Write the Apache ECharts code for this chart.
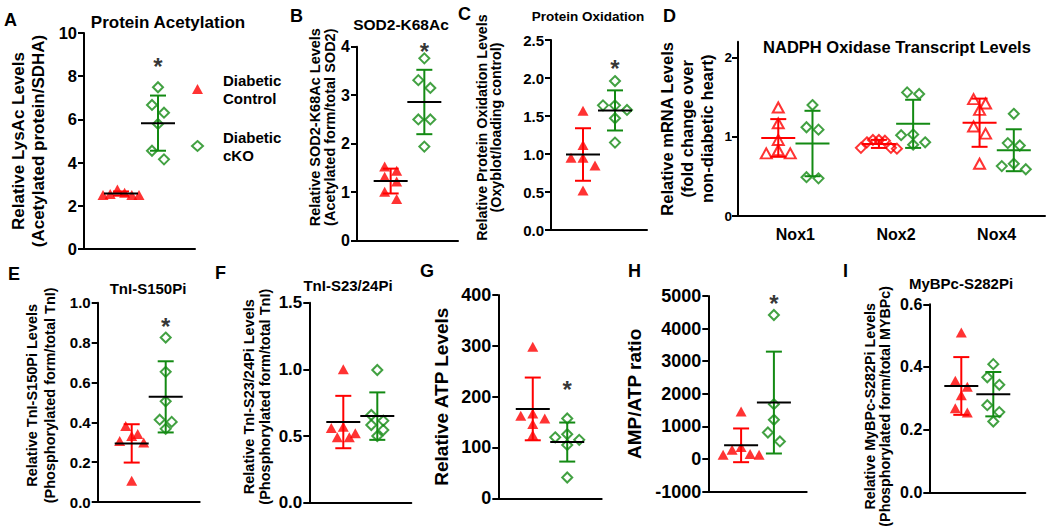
<!DOCTYPE html>
<html><head><meta charset="utf-8">
<script src="https://cdn.jsdelivr.net/npm/echarts@6/dist/echarts.min.js"></script>
<style>html,body{margin:0;padding:0;background:#fff}#c{width:1050px;height:529px}</style>
</head><body><div id="c"></div>
<script>
// ================= DATA =================
const groups = ['Diabetic Control', 'Diabetic cKO'];

// A: Protein Acetylation
const aTitle = 'Protein Acetylation';
const aYName = 'Relative LysAc Levels\n(Acetylated protein/SDHA)';
const aTicks = [0, 2, 4, 6, 8, 10];
const aCtrl = [2.75, 2.5, 2.55, 2.5, 2.6, 2.5];
const aKO = [7.49, 6.67, 6.31, 5.79, 4.55, 4.15];
const aStar = 8.75;

// B: SOD2-K68Ac
const bTitle = 'SOD2-K68Ac';
const bYName = 'Relative SOD2-K68Ac Levels\n(Acetylated form/total SOD2)';
const bTicks = [0, 1, 2, 3, 4];
const bCtrl = [1.53, 1.44, 1.32, 1.22, 1.01, 0.86];
const bKO = [3.76, 3.31, 3.15, 2.5, 2.5, 1.94];
const bStar = 4.03;

// C: Protein Oxidation
const cTitle = 'Protein Oxidation';
const cYName = 'Relative Protein Oxidation Levels\n(Oxyblot/loading control)';
const cTicks = [0, 0.5, 1.0, 1.5, 2.0, 2.5];
const cCtrl = [1.57, 1.12, 0.95, 0.95, 0.85, 0.52];
const cKO = [1.96, 1.64, 1.64, 1.58, 1.47, 1.15];
const cStar = 2.21;

// D: NADPH Oxidase Transcript Levels
const dTitle = 'NADPH Oxidase Transcript Levels';
const dYName = 'Relative mRNA Levels\n(fold change over\nnon-diabetic heart)';
const dCats = ['Nox1', 'Nox2', 'Nox4'];
const dTicks = [0, 1, 2];
const dYMax = 2.2;
const dCtrl = [
  [1.37, 1.17, 0.96, 0.83, 0.79, 0.79],
  [0.96, 0.95, 0.96, 0.93, 0.86, 0.85, 0.86],
  [1.475, 1.42, 1.34, 1.13, 1.04, 0.66]
];
const dKO = [
  [1.40, 1.12, 1.09, 0.49, 0.475],
  [1.56, 1.54, 1.03, 1.02, 0.93, 0.90],
  [1.29, 0.92, 0.89, 0.66, 0.63, 0.59]
];

// E: TnI-S150Pi
const eTitle = 'TnI-S150Pi';
const eYName = 'Relative TnI-S150Pi Levels\n(Phosphorylated form/total TnI)';
const eTicks = [0, 0.2, 0.4, 0.6, 0.8, 1.0];
const eCtrl = [0.381, 0.341, 0.331, 0.306, 0.298, 0.107];
const eKO = [0.825, 0.653, 0.505, 0.413, 0.402, 0.367];
const eStar = 0.91;

// F: TnI-S23/24Pi
const fTitle = 'TnI-S23/24Pi';
const fYName = 'Relative TnI-S23/24Pi Levels\n(Phosphorylated form/total TnI)';
const fTicks = [0, 0.5, 1.0, 1.5];
const fCtrl = [1.0, 0.56, 0.57, 0.49, 0.52, 0.49];
const fKO = [0.995, 0.658, 0.615, 0.583, 0.545, 0.50];

// G: ATP
const gYName = 'Relative ATP Levels';
const gTicks = [0, 100, 200, 300, 400];
const gCtrl = [298, 167, 162.6, 157, 146, 124.6];
const gKO = [157, 126, 120, 115, 105, 41];
const gStar = 226;

// H: AMP/ATP
const hYName = 'AMP/ATP ratio';
const hTicks = [-1000, 0, 1000, 2000, 3000, 4000, 5000];
const hCtrl = [1459, 367, 286, 153, 133, 133];
const hKO = [4418, 1684, 1204, 816, 541];
const hStar = 4959;

// I: MyBPc-S282Pi
const iTitle = 'MyBPc-S282Pi';
const iYName = 'Relative MyBPc-S282Pi Levels\n(Phosphorylated form/total MYBPc)';
const iTicks = [0, 0.2, 0.4, 0.6];
const iCtrl = [0.51, 0.356, 0.337, 0.31, 0.268, 0.255];
const iKO = [0.409, 0.367, 0.343, 0.278, 0.256, 0.226];

// ================= STYLE / LAYOUT =================
const RED = '#ff0000', GREEN = '#138a13', BLACK = '#000';
const FONT = '"Liberation Sans", Arial, Helvetica, sans-serif';
const BIN = 9, STEP = 12, MAXW = 36;

function mean(a) { return a.reduce((s, v) => s + v, 0) / a.length; }
function sdev(a) { const m = mean(a); return Math.sqrt(a.reduce((s, v) => s + (v - m) * (v - m), 0) / (a.length - 1)); }

// simple row-based dot spreading (like a scatter dot plot)
function swarm(vals, cx, pxX, pxY) {
  const idx = vals.map((v, i) => i).sort((a, b) => vals[b] - vals[a]);
  const rows = []; let cur = null;
  idx.forEach(i => {
    const py = vals[i] * pxY;
    if (cur && cur.top - py < BIN) cur.items.push(i);
    else { cur = { top: py, items: [i] }; rows.push(cur); }
  });
  const out = new Array(vals.length);
  rows.forEach(r => {
    const n = r.items.length;
    const step = n > 1 ? Math.min(STEP, MAXW / (n - 1)) : 0;
    const slots = [];
    for (let k = 0; k < n; k++) slots.push((k - (n - 1) / 2) * step);
    slots.sort((a, b) => Math.abs(a) - Math.abs(b) || a - b);
    r.items.forEach((i, k) => { out[i] = [cx + slots[k] / pxX, vals[i]]; });
  });
  return out;
}

function barsRenderer(col, meanCol) {
  return function (params, api) {
    const x = api.value(0), m = api.value(1), s = api.value(2);
    const c = api.coord([x, m]), t = api.coord([x, m + s]), b = api.coord([x, m - s]);
    const st = { stroke: col, lineWidth: 2 };
    return { type: 'group', children: [
      { type: 'line', shape: { x1: c[0], y1: t[1], x2: c[0], y2: b[1] }, style: st },
      { type: 'line', shape: { x1: c[0] - 8, y1: t[1], x2: c[0] + 8, y2: t[1] }, style: st },
      { type: 'line', shape: { x1: c[0] - 8, y1: b[1], x2: c[0] + 8, y2: b[1] }, style: st },
      { type: 'line', shape: { x1: c[0] - 17, y1: c[1], x2: c[0] + 17, y2: c[1] }, style: { stroke: meanCol, lineWidth: 2 } }
    ] };
  };
}

const symCtrl = { symbol: 'triangle', symbolSize: [11, 10], itemStyle: { color: RED } };
const symKO = { symbol: 'diamond', symbolSize: 10, itemStyle: { color: 'rgba(255,255,255,0)', borderColor: GREEN, borderWidth: 2 } };

const panels = [
  { ttl: aTitle, yName: aYName, ticks: aTicks, ctrl: aCtrl, ko: aKO, star: aStar, dec: 0,
    box: [84, 33, 111, 216], tf: 16.5, nf: 17, nw: 'bold', lh: 20, gap: 36, pad: [0, 0, 0, 0], tpos: [168, 22, 17] },
  { ttl: bTitle, yName: bYName, ticks: bTicks, ctrl: bCtrl, ko: bKO, star: bStar, dec: 0,
    box: [357, 46.7, 101, 194], tf: 16, nf: 14.5, nw: 'bold', lh: 14.5, gap: 20, pad: [0, 0, 0, 33], tpos: [401, 24, 15.5] },
  { ttl: cTitle, yName: cYName, ticks: cTicks, ctrl: cCtrl, ko: cKO, star: cStar, dec: 1,
    box: [551, 40, 96, 190], tf: 15, nf: 14.3, nw: 'bold', lh: 14, gap: 48, pad: [0, 0, 0, 15], tpos: [588, 16.5, 13.5] },
  { ttl: eTitle, yName: eYName, ticks: eTicks, ctrl: eCtrl, ko: eKO, star: eStar, dec: 1,
    box: [97.7, 302.7, 102, 199.3], tf: 15, nf: 14.5, nw: 'bold', lh: 18, gap: 39, pad: [0, 0, 0, 14], tpos: [148, 288, 15] },
  { ttl: fTitle, yName: fYName, ticks: fTicks, ctrl: fCtrl, ko: fKO, star: null, dec: 1,
    box: [309.3, 302.7, 102, 200], tf: 17, nf: 14.5, nw: 'bold', lh: 16, gap: 36, pad: [0, 0, 0, 12], tpos: [348, 285, 15] },
  { ttl: null, yName: gYName, ticks: gTicks, ctrl: gCtrl, ko: gKO, star: gStar, dec: 0,
    box: [498.3, 295, 103.4, 203.3], tf: 18, nf: 19, nw: 'bold', lh: 22, gap: 46, pad: [0, 0, 0, 0], tpos: null },
  { ttl: null, yName: hYName, ticks: hTicks, ctrl: hCtrl, ko: hKO, star: hStar, dec: 0,
    box: [708.3, 296, 98.4, 195.7], tf: 18, nf: 19, nw: 'bold', lh: 22, gap: 63, pad: [0, 0, 0, 0], tpos: null },
  { ttl: iTitle, yName: iYName, ticks: iTicks, ctrl: iCtrl, ko: iKO, star: null, dec: 1,
    box: [929.3, 304.3, 96, 188], tf: 16, nf: 14.3, nw: 'bold', lh: 15, gap: 37, pad: [0, 16, 0, 0], tpos: [961, 283, 15] }
];

const letters = [['A', 4, 19.5], ['B', 290, 16], ['C', 458, 14], ['D', 663, 16], ['E', 8, 274],
  ['F', 215, 272.5], ['G', 420, 271], ['H', 628, 271], ['I', 843, 271]];

const option = {
  animation: false,
  backgroundColor: '#fff',
  textStyle: { fontFamily: FONT },
  grid: [], xAxis: [], yAxis: [], series: [], title: [],
  legend: {
    data: groups, orient: 'vertical', left: 191, top: 71, padding: 0,
    itemWidth: 11, itemHeight: 10, itemGap: 21, selectedMode: false,
    formatter: n => n.replace(' ', '\n'),
    textStyle: { fontFamily: FONT, fontWeight: 'bold', fontSize: 15, lineHeight: 18, color: BLACK, padding: [0, 0, 0, 15] }
  }
};

function yAxisCommon(gi, ticks, yMax, tf, dec) {
  return {
    gridIndex: gi, type: 'value', min: ticks[0], max: yMax, interval: ticks[1] - ticks[0],
    axisLine: { show: true, onZero: false, lineStyle: { color: BLACK, width: 2 } },
    axisTick: { show: true, length: 6, lineStyle: { color: BLACK, width: 2 } },
    axisLabel: { color: BLACK, fontFamily: FONT, fontWeight: 'bold', fontSize: tf, margin: 7,
      formatter: v => Number(v).toFixed(dec) },
    splitLine: { show: false }
  };
}

let gi = 0;
panels.forEach(p => {
  const [L, T, W, H] = p.box;
  const yMin = p.ticks[0], yMax = p.ticks[p.ticks.length - 1];
  option.grid.push({ left: L, top: T, width: W, height: H });
  option.xAxis.push({ gridIndex: gi, type: 'value', min: 0, max: 3,
    axisLine: { show: true, onZero: false, lineStyle: { color: BLACK, width: 2 } },
    axisTick: { show: false }, axisLabel: { show: false }, splitLine: { show: false } });
  const ya = yAxisCommon(gi, p.ticks, yMax, p.tf, p.dec);
  Object.assign(ya, { name: p.yName, nameLocation: 'middle', nameRotate: 90, nameGap: p.gap,
    nameTextStyle: { color: BLACK, fontFamily: FONT, fontWeight: p.nw, fontSize: p.nf, lineHeight: p.lh, padding: p.pad } });
  option.yAxis.push(ya);
  const pxX = W / 3, pxY = H / (yMax - yMin);
  [p.ctrl, p.ko].forEach((vals, g) => {
    const sym = g ? symKO : symCtrl;
    option.series.push(Object.assign({ type: 'scatter', name: groups[g], xAxisIndex: gi, yAxisIndex: gi,
      z: 2, silent: true, data: swarm(vals.map(v => v - yMin), g + 1, pxX, pxY).map(d => [d[0], d[1] + yMin]) }, sym));
    option.series.push({ type: 'custom', xAxisIndex: gi, yAxisIndex: gi, z: 3, silent: true, clip: false,
      renderItem: barsRenderer(g ? GREEN : RED, BLACK), data: [[g + 1, mean(vals), sdev(vals)]] });
  });
  if (p.star !== null) {
    option.series.push({ type: 'scatter', xAxisIndex: gi, yAxisIndex: gi, silent: true, symbolSize: 1, clip: false,
      itemStyle: { color: 'rgba(0,0,0,0)' }, data: [[2, p.star]],
      label: { show: true, formatter: '*', position: 'inside', offset: [0, 6], color: BLACK,
        fontFamily: FONT, fontWeight: 'bold', fontSize: 24 } });
  }
  if (p.tpos) {
    option.title.push({ text: p.ttl, left: p.tpos[0], top: p.tpos[1] - p.tpos[2] / 2, textAlign: 'center', padding: 0,
      textStyle: { fontFamily: FONT, fontWeight: 'bold', fontSize: p.tpos[2], color: BLACK } });
  }
  gi++;
});

// Panel D (three categories, value axis with category labels)
(function () {
  const L = 738, T = 41.7, W = 307, H = 174.3, xMin = -0.57, xMax = 2.48, OFF = 0.17;
  option.grid.push({ left: L, top: T, width: W, height: H });
  option.xAxis.push({ gridIndex: gi, type: 'value', min: xMin, max: xMax,
    axisLine: { show: true, onZero: false, lineStyle: { color: BLACK, width: 2 } },
    axisTick: { show: false }, splitLine: { show: false },
    axisLabel: { customValues: dCats.map((c, i) => i), formatter: v => dCats[Math.round(v)] || '',
      color: BLACK, fontFamily: FONT, fontWeight: 'bold', fontSize: 16, margin: 10 } });
  const ya = yAxisCommon(gi, dTicks, dYMax, 13.5, 0);
  ya.axisLabel.customValues = dTicks;
  ya.axisTick.customValues = dTicks;
  ya.axisLabel.margin = 6;
  Object.assign(ya, { name: dYName, nameLocation: 'middle', nameRotate: 90, nameGap: 21,
    nameTextStyle: { color: BLACK, fontFamily: FONT, fontWeight: 'bold', fontSize: 16.5, lineHeight: 20 } });
  option.yAxis.push(ya);
  const pxX = W / (xMax - xMin), pxY = H / dYMax;
  dCats.forEach((cat, ci) => {
    [dCtrl[ci], dKO[ci]].forEach((vals, g) => {
      const col = g ? GREEN : RED;
      const symbol = g ? 'diamond' : (ci === 1 ? 'diamond' : 'triangle');
      option.series.push({ type: 'scatter', name: groups[g], xAxisIndex: gi, yAxisIndex: gi, z: 2, silent: true,
        symbol: symbol, symbolSize: symbol === 'triangle' ? [11, 10] : 10,
        itemStyle: { color: 'rgba(255,255,255,0)', borderColor: col, borderWidth: 2 },
        data: swarm(vals, ci + (g ? OFF : -OFF), pxX, pxY) });
      option.series.push({ type: 'custom', xAxisIndex: gi, yAxisIndex: gi, z: 3, silent: true,
        renderItem: barsRenderer(col, col), data: [[ci + (g ? OFF : -OFF), mean(vals), sdev(vals)]] });
    });
  });
  option.title.push({ text: dTitle, left: 897, top: 47 - 8.25, textAlign: 'center', padding: 0,
    textStyle: { fontFamily: FONT, fontWeight: 'bold', fontSize: 16.5, color: BLACK } });
  gi++;
})();

letters.forEach(([t, x, cy]) => {
  option.title.push({ text: t, left: x, top: cy - 9, padding: 0,
    textStyle: { fontFamily: FONT, fontWeight: 'bold', fontSize: 18, color: BLACK } });
});

const chart = echarts.init(document.getElementById('c'), null, { renderer: 'svg', width: 1050, height: 529 });
chart.setOption(option);
</script>
</body></html>
